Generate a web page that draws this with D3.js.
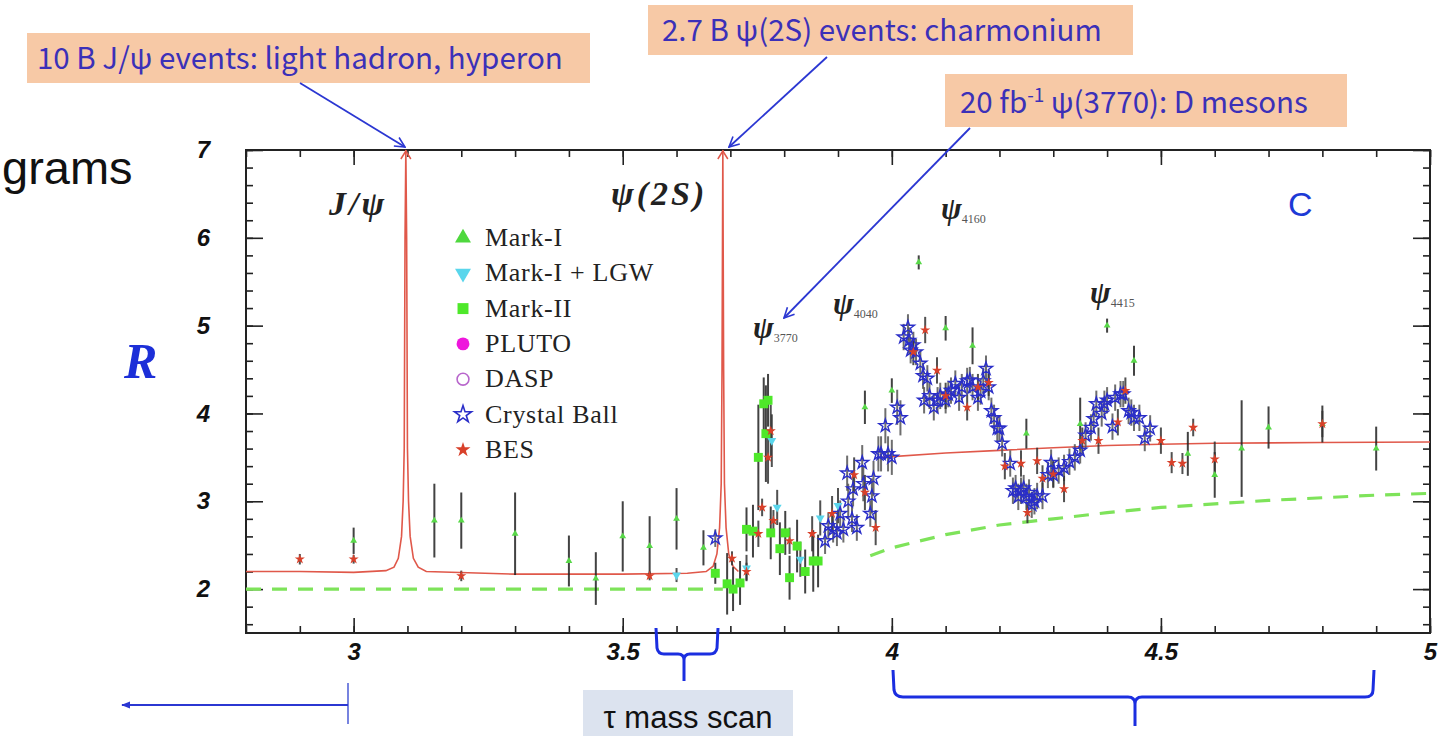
<!DOCTYPE html>
<html>
<head>
<meta charset="utf-8">
<script src="https://cdn.jsdelivr.net/npm/d3@7"></script>
<style>
  body { margin: 0; background: #fff; }
  svg { display: block; }
</style>
</head>
<body>
<div id="chart"></div>
<script>
// ---- values: [E (GeV), R, error] ----
var markI = [
  [3.0, 2.55, 0.15], [3.15, 2.78, 0.42], [3.2, 2.78, 0.32], [3.3, 2.63, 0.47],
  [3.4, 2.32, 0.29], [3.45, 2.12, 0.3], [3.5, 2.6, 0.4], [3.55, 2.49, 0.34],
  [3.6, 2.8, 0.35], [3.65, 2.47, 0.2], [3.95, 4.07, 0.19], [4.0, 4.26, 0.14],
  [4.05, 5.72, 0.08], [4.1, 4.97, 0.14], [4.15, 4.77, 0.21], [4.25, 3.77, 0.17],
  [4.35, 3.88, 0.3], [4.4, 5.0, 0.08], [4.45, 4.6, 0.17], [4.55, 3.54, 0.25],
  [4.6, 3.3, 0.26], [4.65, 3.6, 0.55], [4.7, 3.84, 0.24], [4.8, 3.88, 0.21],
  [4.9, 3.6, 0.25]
];
var markILGW = [
  [3.6, 2.16, 0.08], [3.73, 2.24, 0.15], [3.777, 3.69, 0.3], [3.787, 2.93, 0.2],
  [3.83, 2.34, 0.2], [3.867, 2.81, 0.2], [3.9, 2.95, 0.2]
];
var markII = [
  [3.672, 2.18, 0.12], [3.694, 2.06, 0.35], [3.705, 2.0, 0.25], [3.718, 2.07, 0.25],
  [3.73, 2.68, 0.25], [3.742, 2.66, 0.3], [3.752, 3.5, 0.6], [3.762, 4.11, 0.3],
  [3.766, 3.77, 0.55], [3.77, 4.15, 0.3], [3.775, 2.64, 0.3], [3.792, 2.46, 0.3],
  [3.802, 2.64, 0.25], [3.81, 2.13, 0.25], [3.824, 2.49, 0.3], [3.839, 2.2, 0.25],
  [3.854, 2.32, 0.35], [3.863, 2.32, 0.3]
];
var crystalBall = [
  [3.672, 2.58, 0.1], [3.876, 2.55, 0.15], [3.882, 2.72, 0.15], [3.891, 2.68, 0.15],
  [3.898, 2.64, 0.15], [3.904, 2.86, 0.15], [3.91, 2.68, 0.15], [3.917, 3.32, 0.2],
  [3.919, 3.0, 0.2], [3.926, 2.8, 0.15], [3.928, 3.14, 0.2], [3.935, 2.7, 0.15],
  [3.945, 3.44, 0.2], [3.947, 3.2, 0.2], [3.96, 2.86, 0.15], [3.963, 3.06, 0.2],
  [3.966, 3.26, 0.2], [3.975, 3.54, 0.2], [3.98, 3.54, 0.2], [3.988, 3.86, 0.2],
  [3.993, 3.54, 0.2], [4.0, 3.5, 0.2], [4.01, 4.07, 0.2], [4.016, 3.95, 0.2],
  [4.022, 4.87, 0.15], [4.03, 4.98, 0.15], [4.032, 4.83, 0.15], [4.035, 4.72, 0.15],
  [4.04, 4.78, 0.15], [4.045, 4.7, 0.15], [4.053, 4.57, 0.15], [4.058, 4.43, 0.15],
  [4.066, 4.4, 0.15], [4.06, 4.15, 0.15], [4.07, 4.2, 0.15], [4.078, 4.07, 0.15],
  [4.085, 4.15, 0.15], [4.09, 4.2, 0.15], [4.1, 4.15, 0.15], [4.105, 4.22, 0.15],
  [4.11, 4.26, 0.15], [4.118, 4.34, 0.15], [4.125, 4.18, 0.15], [4.13, 4.3, 0.15],
  [4.14, 4.37, 0.15], [4.145, 4.38, 0.15], [4.15, 4.3, 0.15], [4.16, 4.18, 0.15],
  [4.165, 4.25, 0.15], [4.17, 4.37, 0.15], [4.175, 4.51, 0.15], [4.18, 4.3, 0.15],
  [4.185, 4.03, 0.15], [4.19, 3.95, 0.15], [4.196, 3.83, 0.15], [4.2, 3.83, 0.15],
  [4.205, 3.66, 0.15], [4.22, 3.43, 0.15], [4.225, 3.12, 0.15], [4.23, 3.15, 0.15],
  [4.235, 3.05, 0.15], [4.24, 3.12, 0.15], [4.245, 3.15, 0.15], [4.25, 3.05, 0.15],
  [4.255, 3.1, 0.15], [4.26, 2.96, 0.15], [4.265, 3.0, 0.15], [4.27, 3.06, 0.15],
  [4.28, 3.06, 0.15], [4.29, 3.3, 0.15], [4.296, 3.44, 0.15], [4.3, 3.3, 0.15],
  [4.31, 3.35, 0.15], [4.32, 3.38, 0.15], [4.33, 3.45, 0.15], [4.34, 3.5, 0.15],
  [4.35, 3.58, 0.15], [4.36, 3.75, 0.15], [4.37, 3.84, 0.15], [4.375, 3.94, 0.15],
  [4.38, 4.11, 0.15], [4.39, 4.0, 0.15], [4.395, 4.11, 0.15], [4.4, 4.15, 0.15],
  [4.41, 3.85, 0.15], [4.415, 4.18, 0.15], [4.425, 4.22, 0.15], [4.43, 4.22, 0.15],
  [4.44, 4.03, 0.15], [4.445, 4.01, 0.15], [4.45, 3.95, 0.15], [4.46, 3.95, 0.15],
  [4.47, 3.72, 0.15], [4.48, 3.83, 0.15]
];
var bes = [
  [2.9, 2.34, 0.06], [3.0, 2.34, 0.05], [3.2, 2.15, 0.06], [3.55, 2.15, 0.05],
  [3.703, 2.35, 0.08], [3.73, 2.2, 0.1], [3.752, 2.63, 0.15], [3.759, 2.93, 0.1],
  [3.77, 3.5, 0.3], [3.775, 3.8, 0.3], [3.78, 2.78, 0.12], [3.81, 2.55, 0.15],
  [3.852, 2.63, 0.2], [3.889, 2.86, 0.2], [3.93, 3.3, 0.2], [3.95, 3.1, 0.2],
  [3.97, 2.7, 0.2], [4.04, 4.7, 0.15], [4.062, 4.95, 0.15], [4.084, 4.49, 0.15],
  [4.1, 4.2, 0.15], [4.14, 4.07, 0.15], [4.16, 4.3, 0.15], [4.18, 4.35, 0.15],
  [4.21, 3.4, 0.15], [4.24, 3.43, 0.15], [4.252, 2.87, 0.12], [4.27, 3.46, 0.15],
  [4.28, 3.26, 0.15], [4.3, 3.31, 0.15], [4.32, 3.14, 0.15], [4.354, 3.69, 0.15],
  [4.384, 3.69, 0.15], [4.42, 3.9, 0.15], [4.434, 4.26, 0.15], [4.5, 3.69, 0.15],
  [4.52, 3.44, 0.12], [4.54, 3.43, 0.12], [4.56, 3.84, 0.1], [4.6, 3.48, 0.2],
  [4.8, 3.88, 0.15]
];

// ---- curves: [E, R] ----
var redCurveLow = [
  [2.8, 2.2], [2.9, 2.2], [3.0, 2.19], [3.06, 2.21], [3.075, 2.25], [3.083, 2.35],
  [3.089, 2.6], [3.092, 3.0], [3.094, 3.6], [3.0955, 6.0], [3.097, 7.0], [3.0985, 6.0],
  [3.1, 3.6], [3.102, 3.0], [3.105, 2.6], [3.111, 2.35], [3.12, 2.25], [3.135, 2.2],
  [3.3, 2.17], [3.5, 2.17], [3.62, 2.18], [3.655, 2.2], [3.668, 2.26], [3.675, 2.4],
  [3.68, 2.7], [3.683, 3.2], [3.6845, 4.5], [3.686, 7.0], [3.6875, 4.5], [3.689, 3.2],
  [3.692, 2.7], [3.697, 2.4], [3.705, 2.26], [3.715, 2.2]
];
var redCurveHigh = [
  [3.98, 3.5], [4.1, 3.55], [4.2, 3.58], [4.3, 3.61], [4.4, 3.635], [4.5, 3.65],
  [4.6, 3.66], [4.8, 3.67], [5.0, 3.675]
];
var greenCurveLow = [[2.8, 2.0], [3.686, 2.0]];
var greenCurveHigh = [
  [3.96, 2.38], [4.0, 2.47], [4.1, 2.62], [4.2, 2.73], [4.3, 2.8], [4.4, 2.87],
  [4.5, 2.93], [4.6, 2.97], [4.7, 3.01], [4.8, 3.04], [4.9, 3.07], [5.0, 3.09]
];
var peaks = [3.097, 3.686];

var xTicks = [3, 3.5, 4, 4.5, 5];
var yTicks = [2, 3, 4, 5, 6, 7];
var legendNames = ["Mark-I", "Mark-I + LGW", "Mark-II", "PLUTO", "DASP", "Crystal Ball", "BES"];

// ---- drawing ----
var W = 1455, H = 736;
var svg = d3.select("#chart").append("svg").attr("width", W).attr("height", H);

var x = d3.scaleLinear().domain([2.8, 5]).range([246, 1430]);
var y = d3.scaleLinear().domain([1.5, 7]).range([633, 150]);

svg.append("defs").append("clipPath").attr("id", "plotclip")
  .append("rect").attr("x", 246).attr("y", 148).attr("width", 1184).attr("height", 485);

var blue = "#2b37d2";
var defs = svg.select("defs");
defs.append("marker").attr("id", "vhead").attr("viewBox", "0 0 12 12")
  .attr("refX", 11).attr("refY", 6).attr("markerWidth", 12).attr("markerHeight", 12)
  .attr("markerUnits", "userSpaceOnUse").attr("orient", "auto")
  .append("path").attr("d", "M1,1 L11,6 L1,11").attr("fill", "none").attr("stroke", blue).attr("stroke-width", 1.6);
defs.append("marker").attr("id", "fhead").attr("viewBox", "0 0 10 10")
  .attr("refX", 9).attr("refY", 5).attr("markerWidth", 9).attr("markerHeight", 9)
  .attr("markerUnits", "userSpaceOnUse").attr("orient", "auto")
  .append("path").attr("d", "M0,1 L10,5 L0,9 Z").attr("fill", blue);

// axes: ticks on all four sides, pointing inward
var xMinor = d3.range(28, 51).map(function(d) { return d / 10; });
var yMinor = d3.range(8, 36).map(function(d) { return d / 5; });

function styleAxis(g) {
  g.select(".domain").remove();
  g.selectAll(".tick line").attr("stroke", "#222").attr("stroke-width", 1.6);
  g.selectAll(".tick text").attr("fill", "#111")
    .style("font-family", "'Liberation Sans', Arial, sans-serif")
    .style("font-weight", "bold").style("font-style", "italic").style("font-size", "24px");
}

svg.append("g").attr("transform", "translate(0,633)")
  .call(d3.axisBottom(x).tickValues(xMinor).tickSize(-7).tickFormat("")).call(styleAxis);
svg.append("g").attr("transform", "translate(0,633)")
  .call(d3.axisBottom(x).tickValues(xTicks).tickSize(-15).tickPadding(10).tickFormat(function(d) { return d; }))
  .call(styleAxis);
svg.append("g").attr("transform", "translate(0,150)")
  .call(d3.axisTop(x).tickValues(xMinor).tickSize(-7).tickFormat("")).call(styleAxis);
svg.append("g").attr("transform", "translate(0,150)")
  .call(d3.axisTop(x).tickValues(xTicks).tickSize(-15).tickFormat("")).call(styleAxis);
svg.append("g").attr("transform", "translate(246,0)")
  .call(d3.axisLeft(y).tickValues(yMinor).tickSize(-7).tickFormat("")).call(styleAxis);
svg.append("g").attr("transform", "translate(246,0)")
  .call(d3.axisLeft(y).tickValues(yTicks).tickSize(-17).tickPadding(36).tickFormat(function(d) { return d; }))
  .call(styleAxis);
svg.append("g").attr("transform", "translate(1430,0)")
  .call(d3.axisRight(y).tickValues(yMinor).tickSize(-7).tickFormat("")).call(styleAxis);
svg.append("g").attr("transform", "translate(1430,0)")
  .call(d3.axisRight(y).tickValues(yTicks).tickSize(-17).tickFormat("")).call(styleAxis);

svg.append("rect").attr("x", 246).attr("y", 150).attr("width", 1184).attr("height", 483)
  .attr("fill", "none").attr("stroke", "#222").attr("stroke-width", 2);

var plot = svg.append("g").attr("clip-path", "url(#plotclip)");

// theory curves
var line = d3.line().x(function(d) { return x(d[0]); }).y(function(d) { return y(d[1]); });
[greenCurveLow, greenCurveHigh].forEach(function(c) {
  plot.append("path").datum(c).attr("d", line).attr("fill", "none")
    .attr("stroke", "#7ee35a").attr("stroke-width", 3.2).attr("stroke-dasharray", "15,11");
});
[redCurveLow, redCurveHigh].forEach(function(c) {
  plot.append("path").datum(c).attr("d", line).attr("fill", "none")
    .attr("stroke", "#e0584a").attr("stroke-width", 1.6);
});
// little arrows where the narrow peaks run off the top
peaks.forEach(function(p) {
  plot.append("path")
    .attr("d", "M" + (x(p) - 5) + "," + (y(7) + 9) + " L" + x(p) + "," + (y(7) + 1) + " L" + (x(p) + 5) + "," + (y(7) + 9))
    .attr("fill", "none").attr("stroke", "#e0584a").attr("stroke-width", 1.5);
});

// data series
var series = [
  { data: markI, type: d3.symbolTriangle, size: 20, fill: "#58d848", stroke: "none", rot: 0, bar: "#222" },
  { data: markILGW, type: d3.symbolTriangle, size: 34, fill: "#5ad6ec", stroke: "none", rot: 180, bar: "#333" },
  { data: markII, type: d3.symbolSquare, size: 80, fill: "#4ee82a", stroke: "none", rot: 0, bar: "#222" },
  { data: crystalBall, type: d3.symbolStar, size: 52, fill: "none", stroke: "#2a2ec8", rot: 0, bar: "#555" },
  { data: bes, type: d3.symbolStar, size: 32, fill: "#d8402a", stroke: "none", rot: 0, bar: "#333" }
];

series.forEach(function(s) {
  plot.append("g").selectAll("line").data(s.data).enter().append("line")
    .attr("x1", function(d) { return x(d[0]); }).attr("x2", function(d) { return x(d[0]); })
    .attr("y1", function(d) { return y(d[1] - d[2]); }).attr("y2", function(d) { return y(d[1] + d[2]); })
    .attr("stroke", s.bar).attr("stroke-width", 2).attr("opacity", 0.85);
});
series.forEach(function(s) {
  plot.append("g").selectAll("path").data(s.data).enter().append("path")
    .attr("d", d3.symbol().type(s.type).size(s.size))
    .attr("transform", function(d) { return "translate(" + x(d[0]) + "," + y(d[1]) + ") rotate(" + s.rot + ")"; })
    .attr("fill", s.fill).attr("stroke", s.stroke).attr("stroke-width", 1.4);
});

// legend
var legendStyles = [
  { type: d3.symbolTriangle, size: 110, fill: "#4fd83e", stroke: "none", rot: 0 },
  { type: d3.symbolTriangle, size: 110, fill: "#5ad6ec", stroke: "none", rot: 180 },
  { type: d3.symbolSquare, size: 120, fill: "#4ee82a", stroke: "none", rot: 0 },
  { type: d3.symbolCircle, size: 130, fill: "#ee16dc", stroke: "none", rot: 0 },
  { type: d3.symbolCircle, size: 110, fill: "none", stroke: "#b866cc", rot: 0 },
  { type: d3.symbolStar, size: 90, fill: "none", stroke: "#2a2ec8", rot: 0 },
  { type: d3.symbolStar, size: 70, fill: "#d8402a", stroke: "none", rot: 0 }
];
var legend = svg.append("g").attr("transform", "translate(463,238)");
legendNames.forEach(function(name, i) {
  var st = legendStyles[i];
  var row = legend.append("g").attr("transform", "translate(0," + (i * 35.3) + ")");
  row.append("path").attr("d", d3.symbol().type(st.type).size(st.size)())
    .attr("transform", "rotate(" + st.rot + ")")
    .attr("fill", st.fill).attr("stroke", st.stroke).attr("stroke-width", 1.6);
  row.append("text").attr("x", 22).attr("y", 8).text(name)
    .style("font-family", "'Liberation Serif', 'Times New Roman', serif")
    .style("font-size", "26px").style("letter-spacing", "0.7px").attr("fill", "#222");
});

// resonance labels
var serifBI = "'Liberation Serif', 'Times New Roman', serif";
function resLabel(txt, px, py, size) {
  return svg.append("text").attr("x", px).attr("y", py)
    .style("font-family", serifBI).style("font-weight", "bold").style("font-style", "italic")
    .style("font-size", size + "px").attr("fill", "#222").text(txt);
}
resLabel("J/ψ", 329, 215, 34).style("letter-spacing", "3px");
resLabel("ψ(2S)", 611, 205, 34).style("letter-spacing", "3px");
function subLabel(sub, px, py) {
  var t = resLabel("ψ", px, py, 31);
  t.append("tspan").attr("dy", 4).text(sub)
    .style("font-weight", "normal").style("font-style", "normal").style("font-size", "12px").attr("fill", "#555");
}
subLabel("3770", 753, 338);
subLabel("4040", 833, 314);
subLabel("4160", 941, 219);
subLabel("4415", 1090, 303);

svg.append("text").attr("x", 1288).attr("y", 216).text("C")
  .style("font-family", "'Liberation Sans', Arial, sans-serif").style("font-size", "34px").attr("fill", "#1d3ad6");
svg.append("text").attr("x", 124).attr("y", 378).text("R")
  .style("font-family", serifBI).style("font-weight", "bold").style("font-style", "italic")
  .style("font-size", "50px").attr("fill", "#1c2fd8");
svg.append("text").attr("x", 2).attr("y", 184).text("grams")
  .style("font-family", "'Liberation Sans', Arial, sans-serif").style("font-size", "47px").attr("fill", "#111");

// annotation boxes
var annFont = "'Noto Sans CJK SC', 'Noto Sans', sans-serif";
function annBox(bx, by, bw, bh, fill) {
  svg.append("rect").attr("x", bx).attr("y", by).attr("width", bw).attr("height", bh).attr("fill", fill);
}
annBox(27, 33, 563, 50, "#f7c9a6");
svg.append("text").attr("x", 37).attr("y", 69).text("10 B J/ψ events: light hadron, hyperon")
  .style("font-family", annFont).style("font-size", "29.5px").attr("fill", "#3b30b8");
annBox(648, 5, 485, 50, "#f7c9a6");
svg.append("text").attr("x", 662).attr("y", 41).text("2.7 B ψ(2S) events: charmonium")
  .style("font-family", annFont).style("font-size", "29.5px").attr("fill", "#3b30b8");
annBox(945, 74, 402, 53, "#f7c9a6");
var t3 = svg.append("text").attr("x", 960).attr("y", 113)
  .style("font-family", annFont).style("font-size", "29.5px").attr("fill", "#3b30b8");
t3.append("tspan").text("20 fb");
t3.append("tspan").attr("dy", -11).style("font-size", "19px").text("-1");
t3.append("tspan").attr("dy", 11).text(" ψ(3770): D mesons");

function arrow(x1, y1, x2, y2, head) {
  svg.append("line").attr("x1", x1).attr("y1", y1).attr("x2", x2).attr("y2", y2)
    .attr("stroke", blue).attr("stroke-width", 1.8).attr("marker-end", "url(#" + head + ")");
}
arrow(300, 83, 405, 147, "vhead");
arrow(827, 57, 729, 147, "vhead");
arrow(970, 128, 784, 318, "vhead");

// bottom: arrow, braces, tau box
svg.append("line").attr("x1", 348).attr("y1", 683).attr("x2", 348).attr("y2", 724)
  .attr("stroke", "#5565d8").attr("stroke-width", 1.6);
arrow(348, 705, 122, 705, "fhead");

svg.append("path")
  .attr("d", "M656,628 L657,648 Q658,654 664,654 L678,654 Q684,654 684,660 L684,681 M684,660 Q684,654 690,654 L710,654 Q716,654 717,648 L718,628")
  .attr("fill", "none").attr("stroke", "#1b2ee0").attr("stroke-width", 3);
svg.append("path")
  .attr("d", "M893,670 L894,690 Q895,697 903,697 L1128,697 Q1135,697 1135,704 L1135,726 M1135,704 Q1135,697 1142,697 L1365,697 Q1373,697 1373,690 L1374,670")
  .attr("fill", "none").attr("stroke", "#1b2ee0").attr("stroke-width", 3);

svg.append("rect").attr("x", 583).attr("y", 690).attr("width", 210).attr("height", 50).attr("fill", "#dce3ef");
svg.append("text").attr("x", 688).attr("y", 728).attr("text-anchor", "middle").text("τ mass scan")
  .style("font-family", "'Liberation Sans', Arial, sans-serif").style("font-size", "31px").attr("fill", "#111");
</script>
</body>
</html>
